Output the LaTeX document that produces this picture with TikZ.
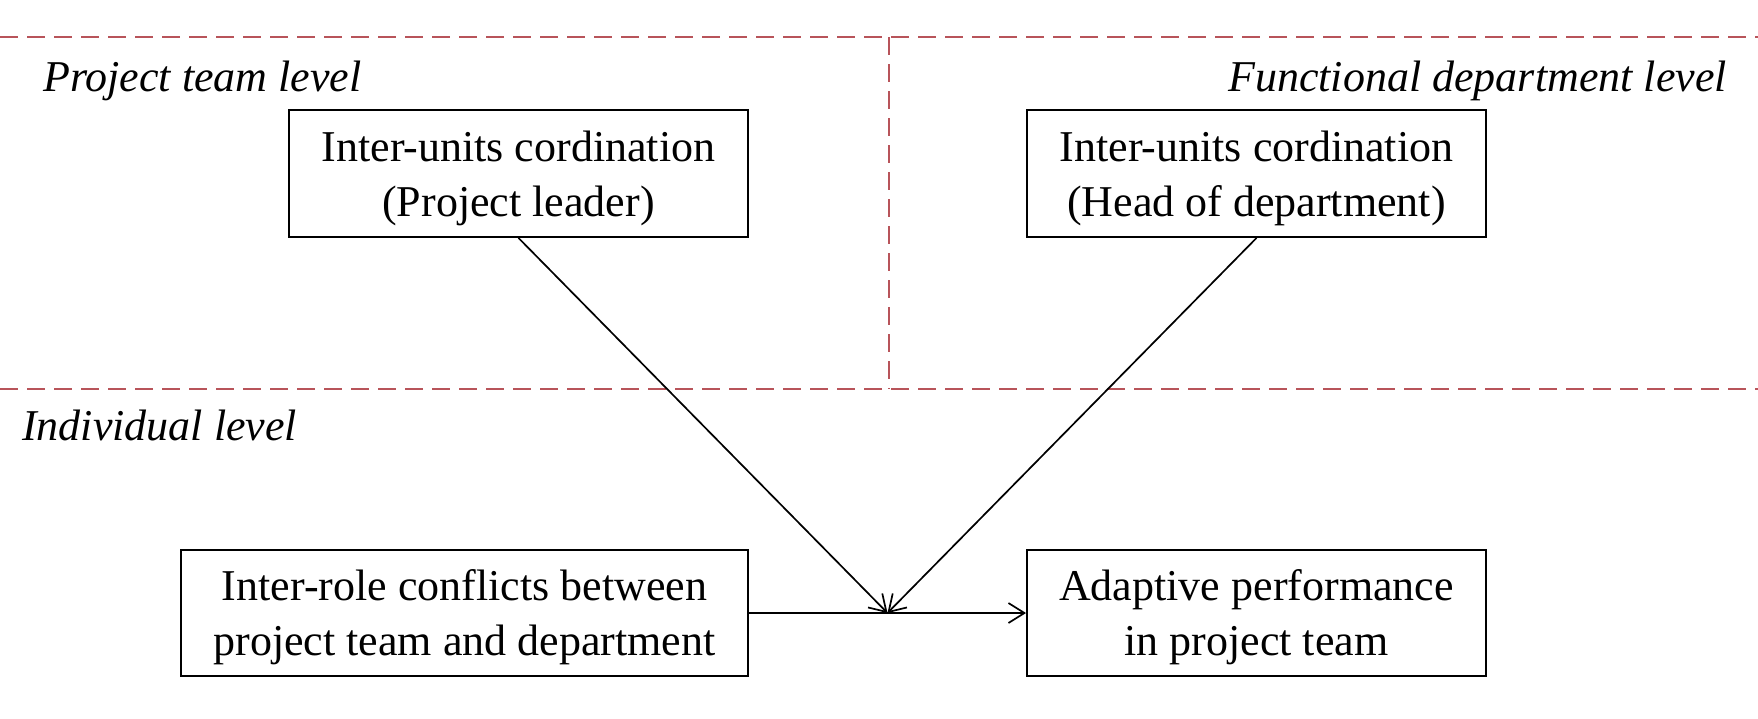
\documentclass[tikz,border=0pt]{standalone}
\usepackage{fontspec}
\setmainfont{Liberation Serif}
\usetikzlibrary{arrows.meta,calc}
\definecolor{dashred}{RGB}{184,84,90}
\begin{document}
\begin{tikzpicture}[x=1pt,y=-1pt,
  box/.style={draw,line width=1.9pt,inner sep=0pt},
  boxtext/.style={align=center,inner sep=0pt,yshift=-4.5pt,
    font=\fontsize{44}{55}\selectfont},
  lvl/.style={font=\fontsize{44}{55}\selectfont\itshape,inner sep=0pt},
  sep/.style={draw=dashred,line width=2pt,dash pattern=on 18pt off 9pt},
  arr/.style={line width=1.7pt,-{Straight Barb[length=16pt,width=20pt,line width=1.7pt]}}]
\useasboundingbox (0,0) rectangle (1758,718);
\fill[white] (0,0) rectangle (1758,718);
% level separators
\coordinate (tl) at (0,37);
\coordinate (tr) at (1758,37);
\coordinate (ml) at (0,389);
\coordinate (mr) at (1758,389);
\coordinate (vt) at (889,37);
\coordinate (vb) at (889,389);
\draw[sep] (tl) -- (tr);
\draw[sep] (ml) -- (mr);
\draw[sep] (vt) -- (vb);
% level labels
\node[lvl,anchor=base west] (l1) at (43,91) {Project team level};
\node[lvl,anchor=base east] (l2) at (1727,91) {Functional department level};
\node[lvl,anchor=base west] (l3) at (22,440) {Individual level};
% boxes
\node[box,minimum width=459pt,minimum height=127pt] (pl) at (518.5,173.5) {};
\node[boxtext] (plt) at (pl.center) {Inter-units cordination\\(Project leader)};
\node[box,minimum width=459pt,minimum height=127pt] (hd) at (1256.5,173.5) {};
\node[boxtext] (hdt) at (hd.center) {Inter-units cordination\\(Head of department)};
\node[box,minimum width=567pt,minimum height=126pt] (rc) at (464.5,613) {};
\node[boxtext] (rct) at (rc.center) {Inter-role conflicts between\\project team and department};
\node[box,minimum width=459pt,minimum height=126pt] (ap) at (1256.5,613) {};
\node[boxtext] (apt) at (ap.center) {Adaptive performance\\in project team};
% connectors
\coordinate (m) at ($(rc.east)!0.5!(ap.west)$);
\draw[arr] (rc.east) -- (ap.west);
\draw[arr] (pl.south) -- (m);
\draw[arr] (hd.south) -- (m);
\end{tikzpicture}
\end{document}
